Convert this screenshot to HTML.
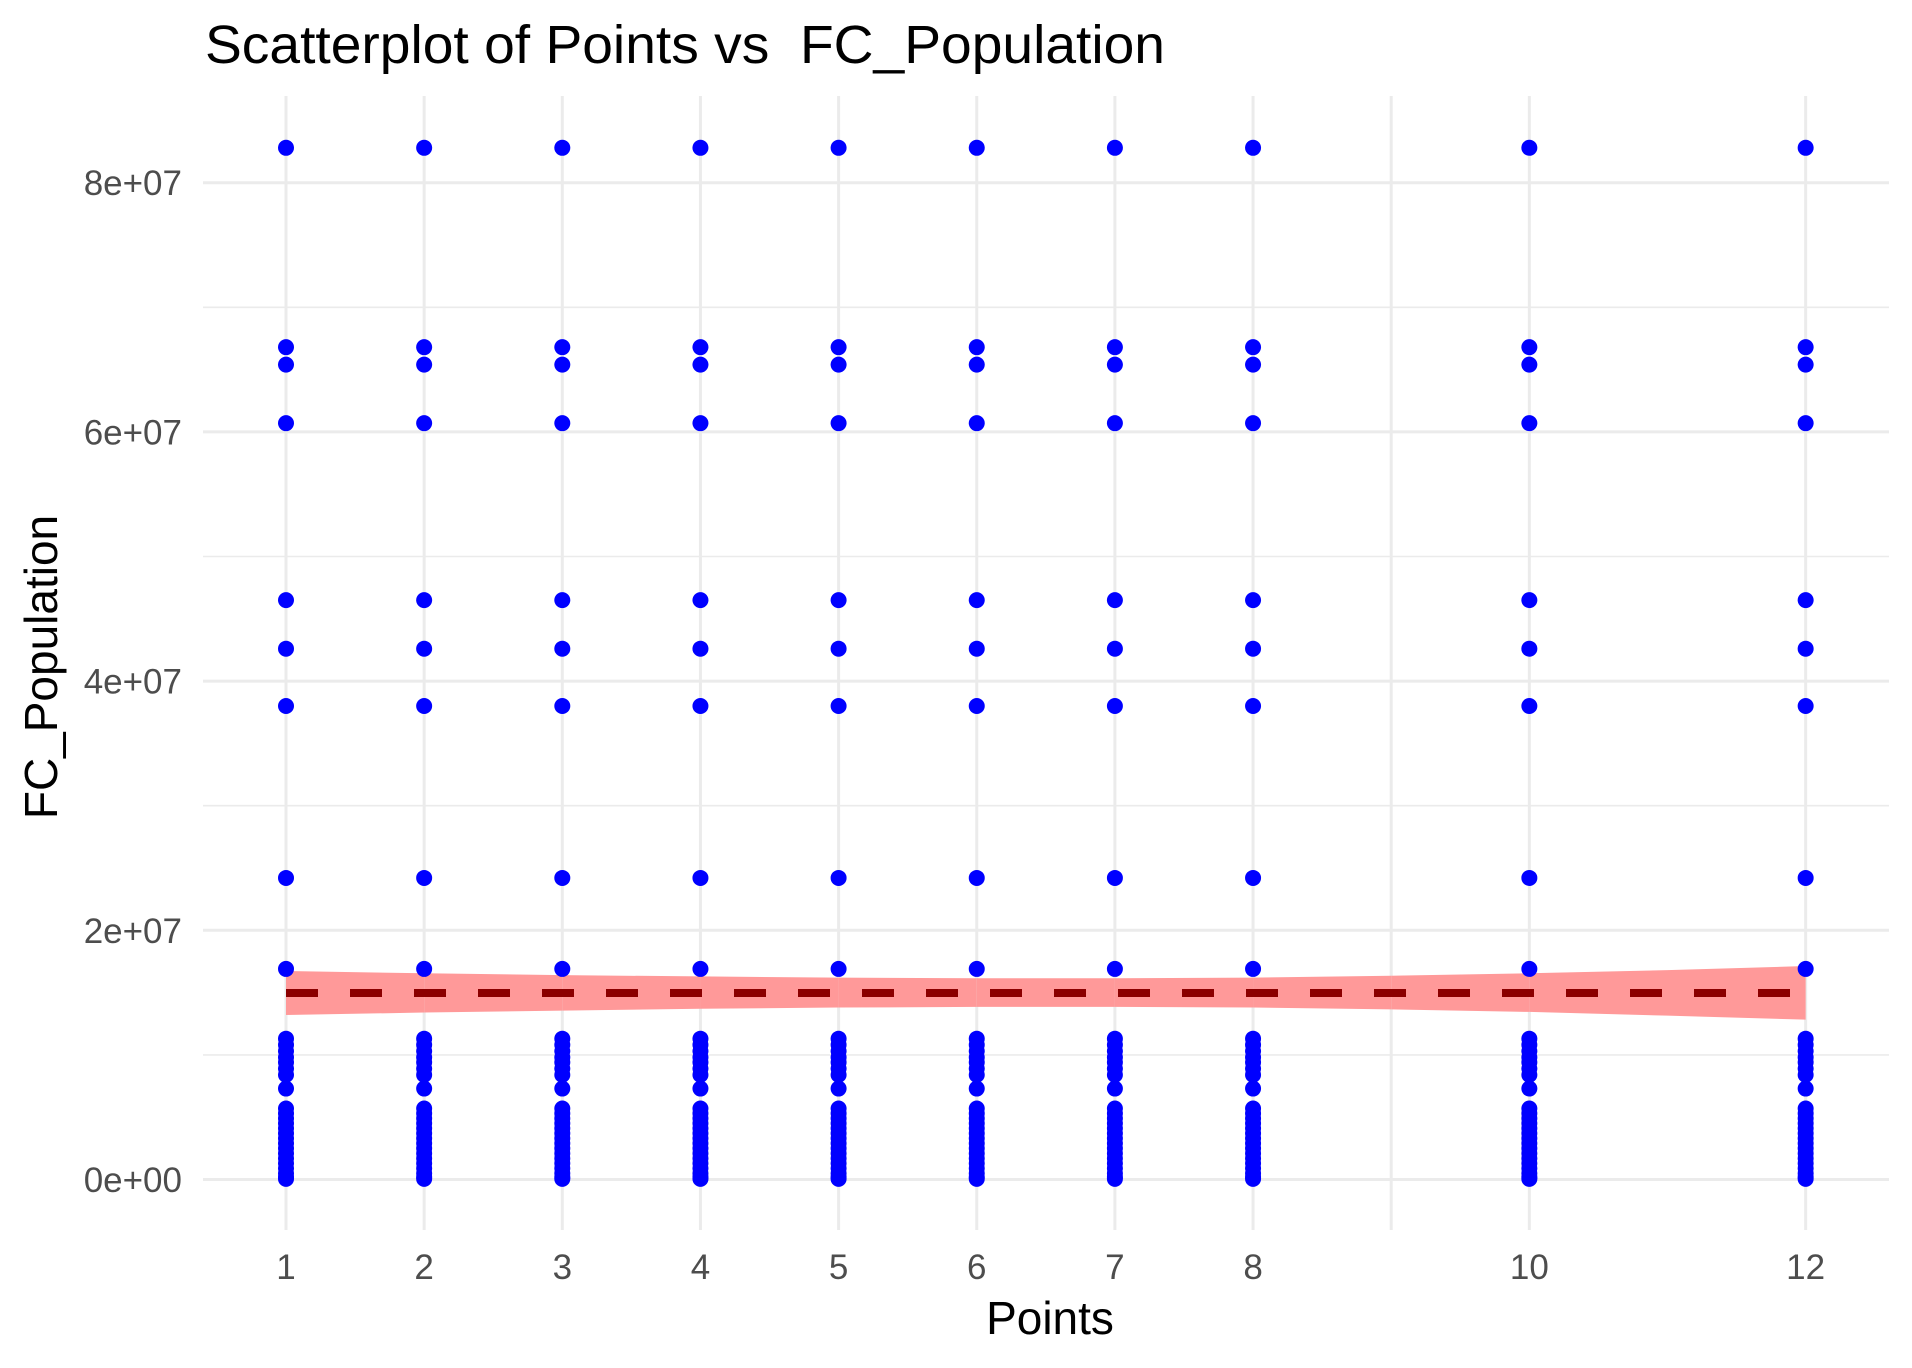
<!DOCTYPE html>
<html><head><meta charset="utf-8"><style>
html,body{margin:0;padding:0;background:#fff;}
svg{display:block;font-family:"Liberation Sans",Arial,sans-serif;}
</style></head><body>
<svg id="chart" width="1912" height="1368" viewBox="0 0 1912 1368" xmlns="http://www.w3.org/2000/svg">
<rect width="1912" height="1368" fill="#fff"/>
<g id="grid"></g>
<g id="ribbon"></g>
<g id="pts"></g>
<g id="fit"></g>
<g id="axes"></g>
<text x="205" y="63" font-size="54" fill="#000" textLength="960" lengthAdjust="spacingAndGlyphs" xml:space="preserve">Scatterplot of Points vs  FC_Population</text>
<text x="1050" y="1334" font-size="46" fill="#000" text-anchor="middle">Points</text>
<text transform="translate(57,667) rotate(-90)" font-size="46" fill="#000" text-anchor="middle">FC_Population</text>
</svg>
<script>
const xCategories = [1,2,3,4,5,6,7,8,10,12];
const yValues = [82.8,66.8,65.4,60.7,46.5,42.6,38.0,24.2,16.9,11.3,10.8,10.3,9.8,9.4,8.9,8.4,7.3,5.7,5.3,4.9,4.5,4.1,3.7,3.3,2.9,2.5,2.1,1.7,1.3,0.9,0.5,0.2,0.05];
const xTickLabels = ["1","2","3","4","5","6","7","8","10","12"];
const xGridValues = [1,2,3,4,5,6,7,8,9,10,12];
const yTickValues = [0,20,40,60,80];
const yTickLabels = ["0e+00","2e+07","4e+07","6e+07","8e+07"];
const yMinorValues = [10,30,50,70];
const bandX = [1,2,3,4,5,6,7,8,9,10,11,12];
const bandUpper = [16.73,16.55,16.40,16.30,16.20,16.15,16.15,16.20,16.35,16.55,16.80,17.13];
const bandLower = [13.20,13.40,13.55,13.70,13.80,13.85,13.85,13.80,13.65,13.45,13.15,12.83];
const fitX = [1,12];
const fitY = [14.97,14.97];

const NS="http://www.w3.org/2000/svg";
const X0=286, XU=138.15, Y0=1179.5, YU=12.46;
const sx=v=>X0+(v-1)*XU, sy=v=>Y0-v*YU;
const PL=203, PR=1889, PT=96, PB=1230;
function mk(tag,parent,attrs){const e=document.createElementNS(NS,tag);for(const k in attrs)e.setAttribute(k,attrs[k]);parent.appendChild(e);return e;}
const grid=document.getElementById('grid');
yMinorValues.forEach(v=>{const l=mk('line',grid,{x1:PL,x2:PR,y1:sy(v),y2:sy(v),stroke:'#ebebeb','stroke-width':1.6});

});
yTickValues.forEach(v=>{const l=mk('line',grid,{x1:PL,x2:PR,y1:sy(v),y2:sy(v),stroke:'#ebebeb','stroke-width':3});

});
xGridValues.forEach(v=>{const l=mk('line',grid,{x1:sx(v),x2:sx(v),y1:PT,y2:PB,stroke:'#ebebeb','stroke-width':3});

});
const rib=document.getElementById('ribbon');
for(let i=0;i<bandX.length-1;i++){
  const xa=sx(bandX[i]), xb=sx(bandX[i+1]);
  const r=mk('polygon',rib,{points:`${xa},${sy(bandUpper[i])} ${xb},${sy(bandUpper[i+1])} ${xb},${sy(bandLower[i+1])} ${xa},${sy(bandLower[i])}`,fill:'#ff9999'});
  
  
}
const pts=document.getElementById('pts');
xCategories.forEach(x=>{yValues.forEach(y=>{
  const c=mk('circle',pts,{cx:sx(x),cy:sy(y),r:8,fill:'#0000ff'});
  
  
});});
const fit=document.getElementById('fit');
const ln=mk('line',fit,{x1:sx(fitX[0]),x2:sx(fitX[1]),y1:sy(fitY[0]),y2:sy(fitY[1]),stroke:'#8b0000','stroke-width':8,'stroke-dasharray':'32 32'});


const axes=document.getElementById('axes');
xCategories.forEach((x,i)=>{const t=mk('text',axes,{x:sx(x),y:1279,'font-size':35,fill:'#4d4d4d','text-anchor':'middle'});t.textContent=xTickLabels[i];

});
yTickValues.forEach((v,i)=>{const t=mk('text',axes,{x:182,y:sy(v)+12.5,'font-size':35,fill:'#4d4d4d','text-anchor':'end'});t.textContent=yTickLabels[i];

});
</script>
</body></html>
